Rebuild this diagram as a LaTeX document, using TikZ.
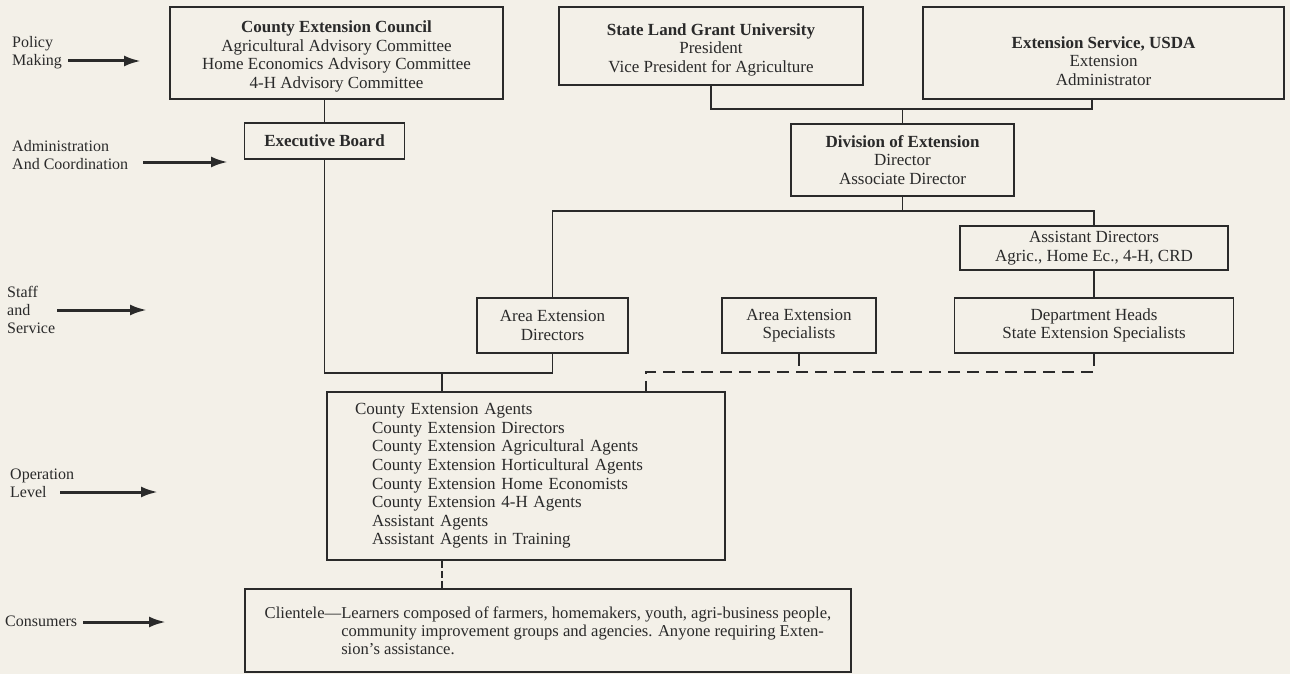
\documentclass[tikz,border=0pt]{standalone}
\usepackage{fontspec}
\setmainfont{Liberation Serif}
\usepackage{xcolor}
\usetikzlibrary{arrows.meta, positioning, calc}
\definecolor{paper}{HTML}{F3F0E8}
\definecolor{ink}{HTML}{2A2A2A}

\begin{document}
\begin{tikzpicture}[x=1pt, y=-1pt, font=\fontsize{17}{18.6}\selectfont, text=ink]
    \tikzstyle{orgbox} = [rectangle, draw=ink, line width=1.8pt, align=center, inner sep=0pt]
    \tikzstyle{link} = [draw=ink, line width=1.8pt]
    \tikzstyle{dashlink} = [link, dash pattern=on 12pt off 7pt]
    \tikzstyle{level} = [align=left, anchor=west, font=\fontsize{16}{18}\selectfont, inner sep=2pt]
    \tikzstyle{arrow} = [draw=ink, line width=3pt, -{Latex[length=17pt,width=11pt]}]

    \fill[paper] (0,0) rectangle (1290,674);

    % top row
    \node (council) [orgbox, minimum width=333pt, minimum height=92pt] at (336.5,53)
        {\rule{0pt}{19pt}\textbf{County Extension Council}\\Agricultural Advisory Committee\\Home Economics Advisory Committee\\4-H Advisory Committee};
    \node (slgu) [orgbox, minimum width=304pt, minimum height=78pt] at (711,46)
        {\rule{0pt}{19pt}\textbf{State Land Grant University}\\President\\Vice President for Agriculture};
    \node (usda) [orgbox, minimum width=361pt, minimum height=92pt] at (1103.5,53)
        {\rule{0pt}{28pt}\textbf{Extension Service, USDA}\\Extension\\Administrator};
    \node (board) [orgbox, minimum width=160pt, minimum height=36pt] at (324.5,141) {\textbf{Executive Board}};
    \node (division) [orgbox, minimum width=223pt, minimum height=72pt] at (902.5,160)
        {\textbf{Division of Extension}\\Director\\Associate Director};

    % staff row
    \node (asstdir) [orgbox, minimum width=268pt, minimum height=44pt] at (1094,248)
        {Assistant Directors\\Agric., Home Ec., 4-H, CRD};
    \node (areadir) [orgbox, minimum width=151pt, minimum height=55pt] at (552.5,325.5)
        {Area Extension\\Directors};
    \node (areaspec) [orgbox, minimum width=154pt, minimum height=55pt] at (799,325.5)
        {Area Extension\\Specialists};
    \node (depthead) [orgbox, minimum width=279pt, minimum height=55pt] at (1094,325.5)
        {Department Heads\\State Extension Specialists};

    % operation and consumers
    \node (agents) [orgbox, minimum width=398pt, minimum height=168pt, text width=342pt, align=left] at (526,476)
        {County Extension Agents\\
        \hspace*{17pt}County Extension Directors\\
        \hspace*{17pt}County Extension Agricultural Agents\\
        \hspace*{17pt}County Extension Horticultural Agents\\
        \hspace*{17pt}County Extension Home Economists\\
        \hspace*{17pt}County Extension 4-H Agents\\
        \hspace*{17pt}Assistant Agents\\
        \hspace*{17pt}Assistant Agents in Training};
    \node (clientele) [orgbox, minimum width=606pt, minimum height=83pt, align=left,
        font=\fontsize{16.6}{18}\selectfont] at (548,630.5)
        {Clientele---Learners composed of farmers, homemakers, youth, agri-business people,\\
        \phantom{Clientele---}community improvement groups and agencies. Anyone requiring Exten-\\
        \phantom{Clientele---}sion's assistance.};

    % levels
    \node (policy) [level] at (10,52.5) {Policy\\Making};
    \node (admin) [level] at (10,155.5) {Administration\\And Coordination};
    \node (staff) [level] at (5,310) {Staff\\and\\Service};
    \node (oplevel) [level] at (8,483) {Operation\\Level};
    \node (consumers) [level] at (3,621) {Consumers};

    \coordinate (policytip) at (141,61);
    \coordinate (admintip) at (228,162);
    \coordinate (stafftip) at (147,310);
    \coordinate (optip) at (158,492);
    \coordinate (constip) at (166,622);

    \draw [arrow] ([xshift=4pt]policy.east |- policytip) -- (policytip);
    \draw [arrow] ([xshift=13pt]admin.east |- admintip) -- (admintip);
    \draw [arrow] (staff.east |- stafftip) -- (stafftip);
    \draw [arrow] ([xshift=-16pt]oplevel.east |- optip) -- (optip);
    \draw [arrow] ([xshift=4pt]consumers.east |- constip) -- (constip);

    % connectors
    \coordinate (topbus) at (902.5,109);
    \coordinate (midbus) at (902.5,211);
    \coordinate (trunk) at (442,373);
    \coordinate (dashbus) at (646,372);

    \draw [link] (council.south -| board.north) -- (board.north);
    \draw [link] (board.south) |- (trunk) -| (areadir.south);
    \draw [link] (trunk) -- (trunk |- agents.north);
    \draw [link] (slgu.south) |- (topbus) -| ([xshift=-11.5pt]usda.south);
    \draw [link] (topbus) -- (division.north);
    \draw [link] (division.south) -- (midbus);
    \draw [link] (areadir.north) |- (midbus) -| (asstdir.north);
    \draw [link] (asstdir.south) -- (depthead.north);
    \draw [dashlink] (areaspec.south) -- (areaspec.south |- dashbus);
    \draw [dashlink] (depthead.south) |- (dashbus) -- (dashbus |- agents.north);
    \draw [dashlink, dash pattern=on 7pt off 3pt] (agents.south -| trunk) -- (clientele.north -| trunk);
\end{tikzpicture}
\end{document}
